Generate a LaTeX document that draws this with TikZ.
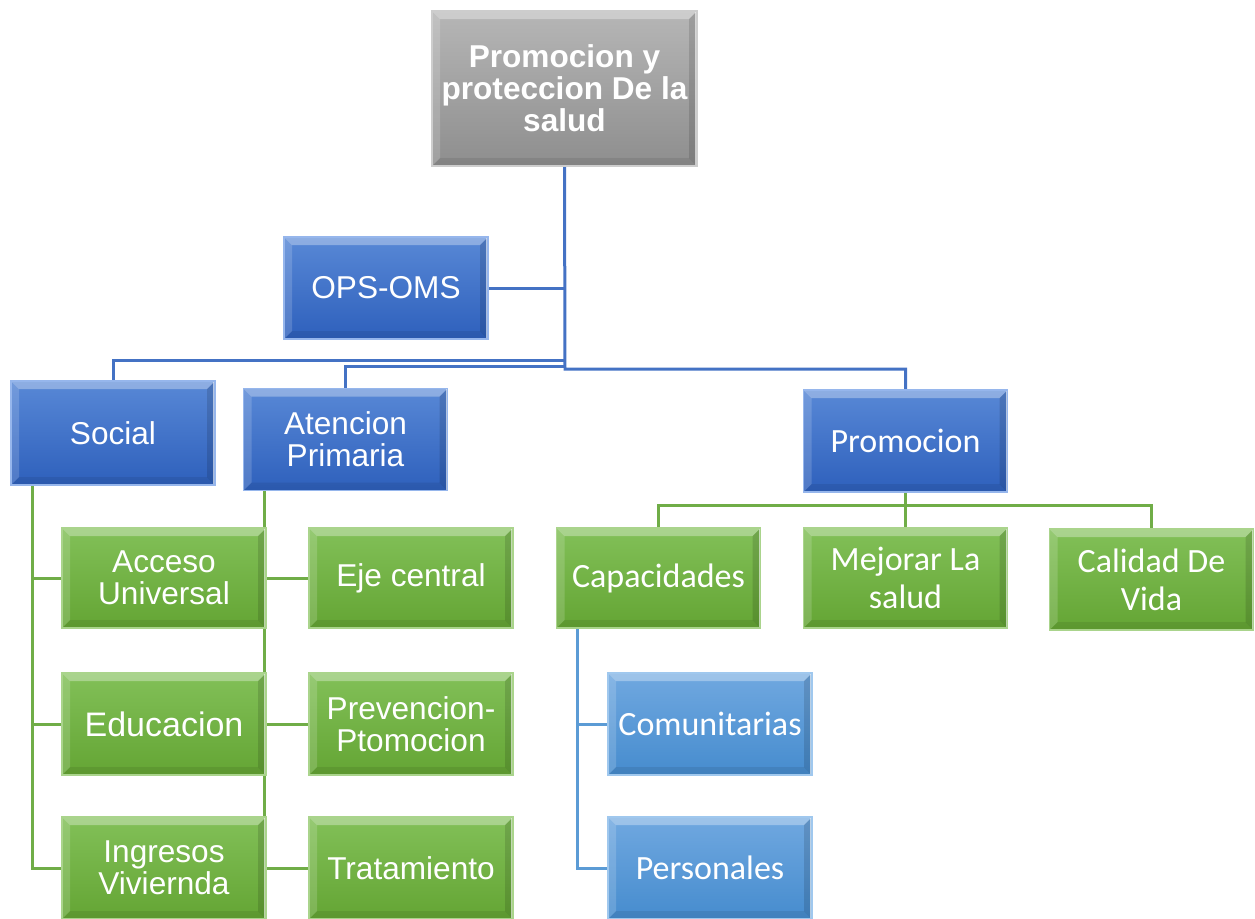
\documentclass[tikz,border=0pt]{standalone}
\usepackage{fontspec}
\setmainfont{Liberation Sans}
\newfontfamily\calib{Carlito}
\usetikzlibrary{backgrounds,calc}
\definecolor{dblueT}{RGB}{88,136,214}
\definecolor{dblueB}{RGB}{46,96,188}
\definecolor{dblueE}{RGB}{150,182,236}
\definecolor{greenT}{RGB}{130,192,88}
\definecolor{greenB}{RGB}{100,165,52}
\definecolor{greenE}{RGB}{170,212,140}
\definecolor{lblueT}{RGB}{112,168,224}
\definecolor{lblueB}{RGB}{70,140,206}
\definecolor{lblueE}{RGB}{160,200,238}
\definecolor{grayT}{RGB}{182,182,182}
\definecolor{grayB}{RGB}{142,142,142}
\definecolor{grayE}{RGB}{205,205,205}
\definecolor{cblue}{RGB}{68,114,196}
\definecolor{cgreen}{RGB}{112,173,71}
\definecolor{clblue}{RGB}{91,155,213}
\tikzset{
  bev/.style={path picture={
    \coordinate (pnw) at (path picture bounding box.north west);
    \coordinate (pne) at (path picture bounding box.north east);
    \coordinate (psw) at (path picture bounding box.south west);
    \coordinate (pse) at (path picture bounding box.south east);
    \fill[white,opacity=.32] (pnw) -- (pne) -- ([shift={(-4pt,-4pt)}]pne) -- ([shift={(4pt,-4pt)}]pnw) -- cycle;
    \fill[white,opacity=.16] (pnw) -- ([shift={(4pt,-4pt)}]pnw) -- ([shift={(4pt,4pt)}]psw) -- (psw) -- cycle;
    \fill[black,opacity=.08] (psw) -- ([shift={(4pt,4pt)}]psw) -- ([shift={(-4pt,4pt)}]pse) -- (pse) -- cycle;
    \fill[black,opacity=.13] (pne) -- (pse) -- ([shift={(-4pt,4pt)}]pse) -- ([shift={(-4pt,-4pt)}]pne) -- cycle;
    \draw[white,opacity=.6,line width=0.8pt] ([xshift=-0.6pt]pne) -- ([xshift=-0.6pt]pse);
  }},
  boxbase/.style={bev, inner sep=0pt, outer sep=0pt, align=center, text=white, line width=0.6pt,
    minimum width=102pt, minimum height=51pt},
  arialtxt/.style={font=\fontsize{15.8pt}{16pt}\selectfont},
  calibtxt/.style={font=\calib\fontsize{17pt}{19pt}\selectfont},
  dbox/.style={boxbase, draw=dblueE, top color=dblueT, bottom color=dblueB},
  gbox/.style={boxbase, draw=greenE, top color=greenT, bottom color=greenB},
  lbox/.style={boxbase, draw=lblueE, top color=lblueT, bottom color=lblueB},
  graybox/.style={boxbase, draw=grayE, top color=grayT, bottom color=grayB,
    minimum width=132.5pt, minimum height=77.5pt, font=\bfseries\fontsize{15.8pt}{16pt}\selectfont},
  bline/.style={draw=cblue, line width=1.5pt},
  gline/.style={draw=cgreen, line width=1.5pt},
  lbline/.style={draw=clblue, line width=1.5pt},
}
\begin{document}
\begin{tikzpicture}[x=0.5pt,y=-0.5pt]
\useasboundingbox (0,0) rectangle (1255,918);
% nodes
\node[graybox] (top) at (564.5,88.5) {Promocion y\\proteccion De la\\salud};
\node[dbox,arialtxt] (ops) at (386,288) {OPS-OMS};
\node[dbox,arialtxt,minimum height=52pt] (social) at (113,433) {Social};
\node[dbox,arialtxt] (aten) at (345.5,439.5) {Atencion\\Primaria};
\node[dbox,calibtxt] (promo) at (905.5,441) {Promocion};
\node[gbox,arialtxt,minimum height=50pt] (acceso) at (164,578) {Acceso\\Universal};
\node[gbox,font=\fontsize{17pt}{18pt}\selectfont] (educ) at (164,724) {Educacion};
\node[gbox,arialtxt] (ingr) at (164,868) {Ingresos\\Viviernda};
\node[gbox,arialtxt,minimum height=50pt] (eje) at (411,578) {Eje central};
\node[gbox,arialtxt] (prev) at (411,724) {Prevencion-\\Ptomocion};
\node[gbox,arialtxt] (trat) at (411,868) {Tratamiento};
\node[gbox,calibtxt,minimum height=50pt] (capac) at (658.5,578) {Capacidades};
\node[gbox,calibtxt,minimum height=50pt] (mejor) at (905.5,578) {Mejorar La\\salud};
\node[gbox,calibtxt,minimum height=50.5pt] (calid) at (1151.5,579.5) {Calidad De\\Vida};
\node[lbox,calibtxt] (comun) at (710,724) {Comunitarias};
\node[lbox,calibtxt] (pers) at (710,868) {Personales};
% connectors
\begin{pgfonlayer}{background}
\coordinate (tj) at (565,369);
\coordinate (sj) at (565,360);
\coordinate (aj) at (565,366);
\coordinate (s0) at (32,485);
\coordinate (a0) at (264,491);
\coordinate (pj) at (906,505);
\coordinate (c0) at (577,628);
\draw[bline] (top.south) -- (tj) -| (promo.north);
\draw[bline] (ops.east) -- (ops.east -| top.south);
\draw[bline] (sj) -| (social.north);
\draw[bline] (aj) -| (aten.north);
\draw[gline] (s0) |- (acceso.west);
\draw[gline] (s0) |- (educ.west);
\draw[gline] (s0) |- (ingr.west);
\draw[gline] (a0) |- (eje.west);
\draw[gline] (a0) |- (prev.west);
\draw[gline] (a0) |- (trat.west);
\draw[gline] (promo.south) -- (mejor.north);
\draw[gline] (capac.north) |- (pj) -| (calid.north);
\draw[lbline] (c0) |- (comun.west);
\draw[lbline] (c0) |- (pers.west);
\end{pgfonlayer}
\end{tikzpicture}
\end{document}
